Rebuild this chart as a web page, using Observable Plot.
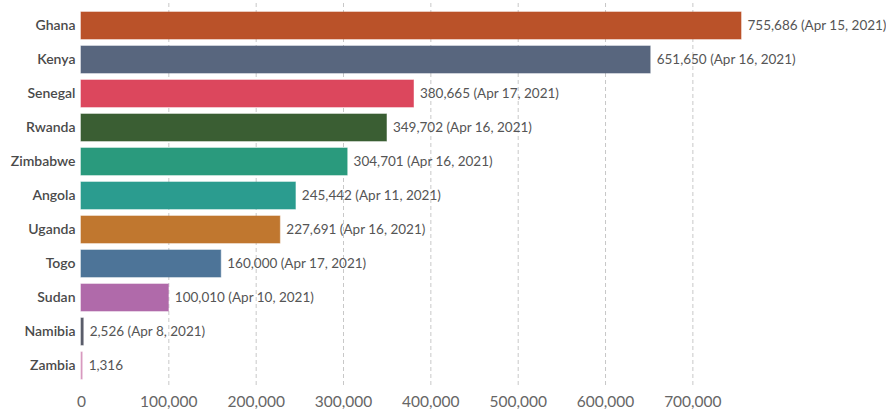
<!DOCTYPE html>
<html><head><meta charset="utf-8">
<script src="https://cdn.jsdelivr.net/npm/d3@7"></script>
<script src="https://cdn.jsdelivr.net/npm/@observablehq/plot@0.6"></script>
<style>
html,body{margin:0;padding:0;background:#fff;}
svg{font-family:Lato, "Open Sans", sans-serif;}
</style></head>
<body><div id="chart"></div>
<script>
const countries = ["Ghana","Kenya","Senegal","Rwanda","Zimbabwe","Angola","Uganda","Togo","Sudan","Namibia","Zambia"];
const values = [755686,651650,380665,349702,304701,245442,227691,160000,100010,2526,1316];
const dates = ["Apr 15, 2021","Apr 16, 2021","Apr 17, 2021","Apr 16, 2021","Apr 16, 2021","Apr 11, 2021","Apr 16, 2021","Apr 17, 2021","Apr 10, 2021","Apr 8, 2021",""];
const colors = ["#BA5229","#58667E","#DC475D","#3A5E33","#2A9A7D","#2B9C8F","#C0772F","#4D7498","#B06AAA","#5A5E6A","#D89AC0"];
const xTicks = [0,100000,200000,300000,400000,500000,600000,700000];

const data = countries.map((c,i)=>({country:c, value:values[i], date:dates[i], color:colors[i]}));
const fmt = d3.format(",");
const label = d => fmt(d.value) + (d.date ? " (" + d.date + ")" : "");

const chart = Plot.plot({
  width: 886, height: 412,
  marginLeft: 81, marginRight: 145, marginTop: 3, marginBottom: 25,
  style: {fontFamily: "Lato, sans-serif"},
  x: {domain: [0, 755686], ticks: xTicks, tickFormat: d => fmt(d), label: null, tickSize: 0},
  y: {domain: countries, padding: 0.213, label: null, tickSize: 0},
  marks: [
    Plot.ruleX(xTicks.slice(1), {stroke: "#c8c8c8", strokeDasharray: "4,3", strokeWidth: 1}),
    Plot.barX(data, {x: "value", y: "country", fill: "color", stroke: "color", strokeOpacity: 0.6}),
    Plot.text(data, {x: "value", y: "country", text: label, textAnchor: "start", dx: 6, fill: "#555", fontSize: 13.5}),
    Plot.axisY({tickSize: 0, tickPadding: 6, fontSize: 14, fontWeight: 600, fill: "#4a4a4a", label: null}),
    Plot.axisX({ticks: xTicks, tickFormat: d => fmt(d), tickSize: 0, tickPadding: 8, fontSize: 15.5, fill: "#666", label: null})
  ]
});
document.getElementById("chart").appendChild(chart);
</script></body></html>
